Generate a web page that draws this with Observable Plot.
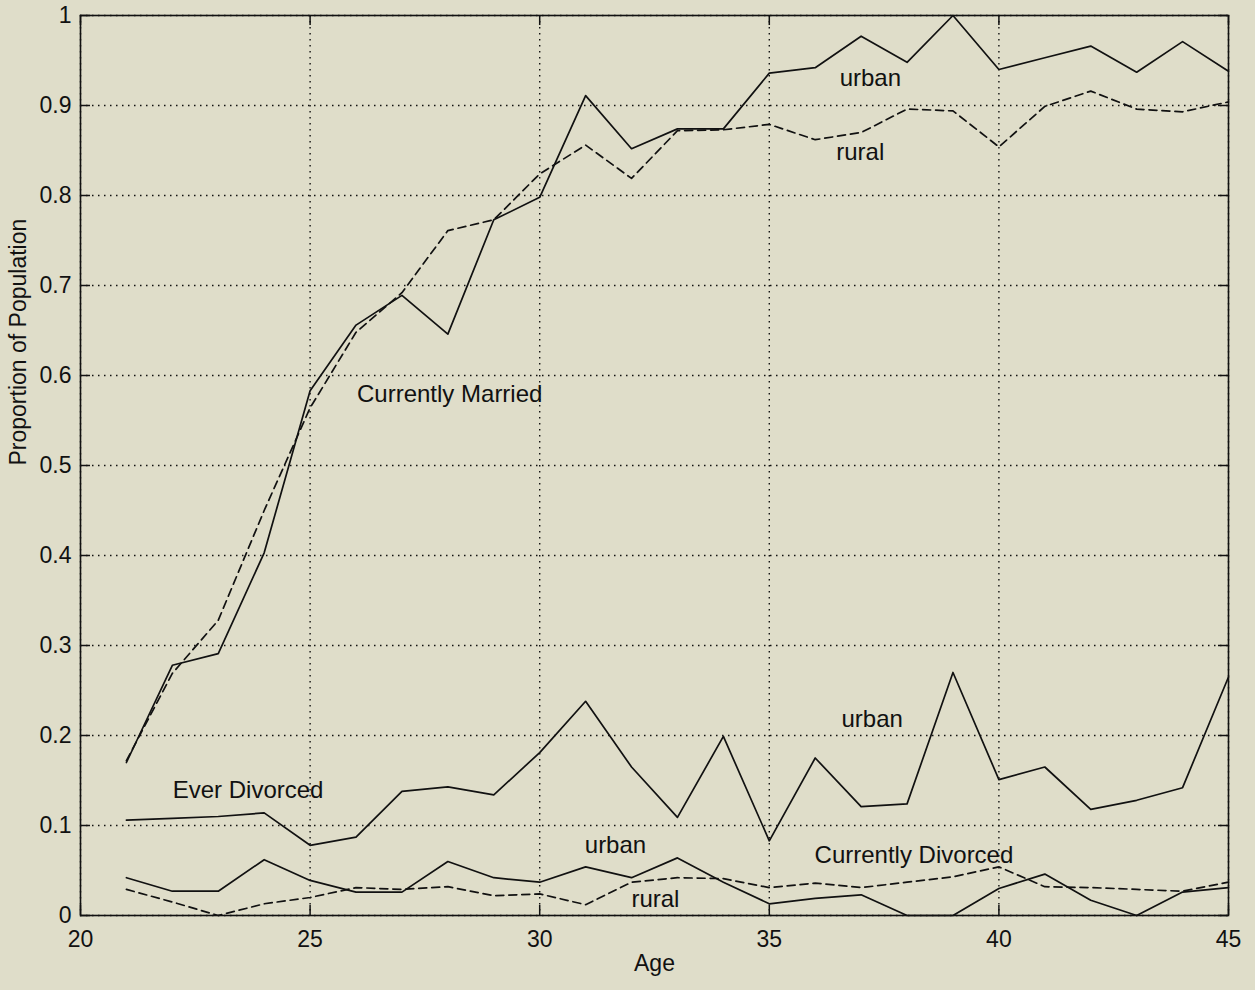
<!DOCTYPE html>
<html>
<head>
<meta charset="utf-8">
<script src="https://cdn.jsdelivr.net/npm/d3@7"></script>
<script src="https://cdn.jsdelivr.net/npm/@observablehq/plot@0.6"></script>
<style>
  html, body { margin: 0; padding: 0; background: #dfddc9; }
  #chart svg { display: block; }
</style>
</head>
<body>
<div id="chart"></div>
<script>
const ages = [21,22,23,24,25,26,27,28,29,30,31,32,33,34,35,36,37,38,39,40,41,42,43,44,45];
const marriedUrban = [0.170,0.278,0.291,0.403,0.583,0.656,0.689,0.646,0.773,0.798,0.911,0.852,0.874,0.874,0.936,0.942,0.977,0.948,1.000,0.940,0.953,0.966,0.937,0.971,0.938];
const marriedRural = [0.172,0.269,0.328,0.450,0.564,0.648,0.692,0.761,0.773,0.824,0.856,0.819,0.872,0.873,0.879,0.862,0.870,0.896,0.894,0.854,0.899,0.916,0.896,0.893,0.904];
const everDivorcedUrban = [0.106,0.108,0.110,0.114,0.078,0.087,0.138,0.143,0.134,0.181,0.238,0.165,0.109,0.199,0.083,0.175,0.121,0.124,0.270,0.151,0.165,0.118,0.128,0.142,0.265];
const currDivorcedUrban = [0.042,0.027,0.027,0.062,0.039,0.026,0.026,0.060,0.042,0.037,0.054,0.042,0.064,0.037,0.013,0.019,0.023,0.000,0.000,0.030,0.046,0.017,0.000,0.026,0.031];
const currDivorcedRural = [0.029,0.015,0.000,0.013,0.020,0.031,0.029,0.032,0.022,0.024,0.012,0.037,0.042,0.041,0.031,0.036,0.031,0.037,0.043,0.054,0.032,0.031,0.029,0.027,0.037];

const xTicks = [20,25,30,35,40,45];
const yTicks = [0,0.1,0.2,0.3,0.4,0.5,0.6,0.7,0.8,0.9,1];
const yTickLabels = ["0","0.1","0.2","0.3","0.4","0.5","0.6","0.7","0.8","0.9","1"];

const labelText = ["urban","rural","Currently Married","urban","Ever Divorced","urban","Currently Divorced","rural"];
const labelAge = [37.2,36.98,28.04,37.24,23.65,31.65,38.15,32.52];
const labelValue = [0.930,0.848,0.579,0.218,0.139,0.078,0.067,0.018];

const xLabel = "Age";
const yLabel = "Proportion of Population";

function series(values) { return ages.map((a, i) => ({age: a, value: values[i]})); }
const labels = labelText.map((t, i) => ({text: t, age: labelAge[i], value: labelValue[i]}));

const ink = "#111";
const font = "'Liberation Sans', Arial, Helvetica, sans-serif";

const W = 1255, H = 990, ML = 80, MR = 27, MT = 15, MB = 75;
const FW = W - ML - MR, FH = H - MT - MB;
const T = 10; // inward tick length

const chart = Plot.plot({
  width: W,
  height: H,
  marginLeft: ML,
  marginRight: MR,
  marginTop: MT,
  marginBottom: MB,
  style: {background: "#dfddc9", fontFamily: font, fontSize: "23px", color: ink},
  x: {domain: [20, 45]},
  y: {domain: [0, 1]},
  marks: [
    Plot.gridX(xTicks, {stroke: ink, strokeOpacity: 1, strokeWidth: 1.4, strokeDasharray: "1.5,4.5"}),
    Plot.gridY(yTicks, {stroke: ink, strokeOpacity: 1, strokeWidth: 1.4, strokeDasharray: "1.5,4.5"}),
    // tick labels
    Plot.axisX(xTicks, {anchor: "bottom", tickSize: 0, tickPadding: 15, label: null, fontSize: 23, fill: ink}),
    Plot.axisY(yTicks, {anchor: "left", tickSize: 0, tickPadding: 9, label: null, fontSize: 23, fill: ink,
      tickFormat: (d) => yTickLabels[yTicks.indexOf(d)]}),
    // inward tick marks on all four sides
    Plot.ruleY(yTicks, {stroke: ink, strokeWidth: 1.5, insetRight: FW - T}),
    Plot.ruleY(yTicks, {stroke: ink, strokeWidth: 1.5, insetLeft: FW - T}),
    Plot.ruleX(xTicks, {stroke: ink, strokeWidth: 1.5, insetTop: FH - T}),
    Plot.ruleX(xTicks, {stroke: ink, strokeWidth: 1.5, insetBottom: FH - T}),
    Plot.line(series(marriedUrban), {x: "age", y: "value", stroke: ink, strokeWidth: 1.7}),
    Plot.line(series(marriedRural), {x: "age", y: "value", stroke: ink, strokeWidth: 1.7, strokeDasharray: "8,5"}),
    Plot.line(series(everDivorcedUrban), {x: "age", y: "value", stroke: ink, strokeWidth: 1.7}),
    Plot.line(series(currDivorcedUrban), {x: "age", y: "value", stroke: ink, strokeWidth: 1.7}),
    Plot.line(series(currDivorcedRural), {x: "age", y: "value", stroke: ink, strokeWidth: 1.7, strokeDasharray: "8,5"}),
    Plot.text(labels, {x: "age", y: "value", text: "text", fontSize: 24, fill: ink, textAnchor: "middle"}),
    Plot.frame({stroke: ink, strokeWidth: 1.6}),
    Plot.text([xLabel], {frameAnchor: "bottom", dy: 55, fontSize: 23, fill: ink}),
    Plot.text([yLabel], {frameAnchor: "left", rotate: -90, dx: -62, fontSize: 23, fill: ink})
  ]
});
document.getElementById("chart").appendChild(chart);
</script>
</body>
</html>
